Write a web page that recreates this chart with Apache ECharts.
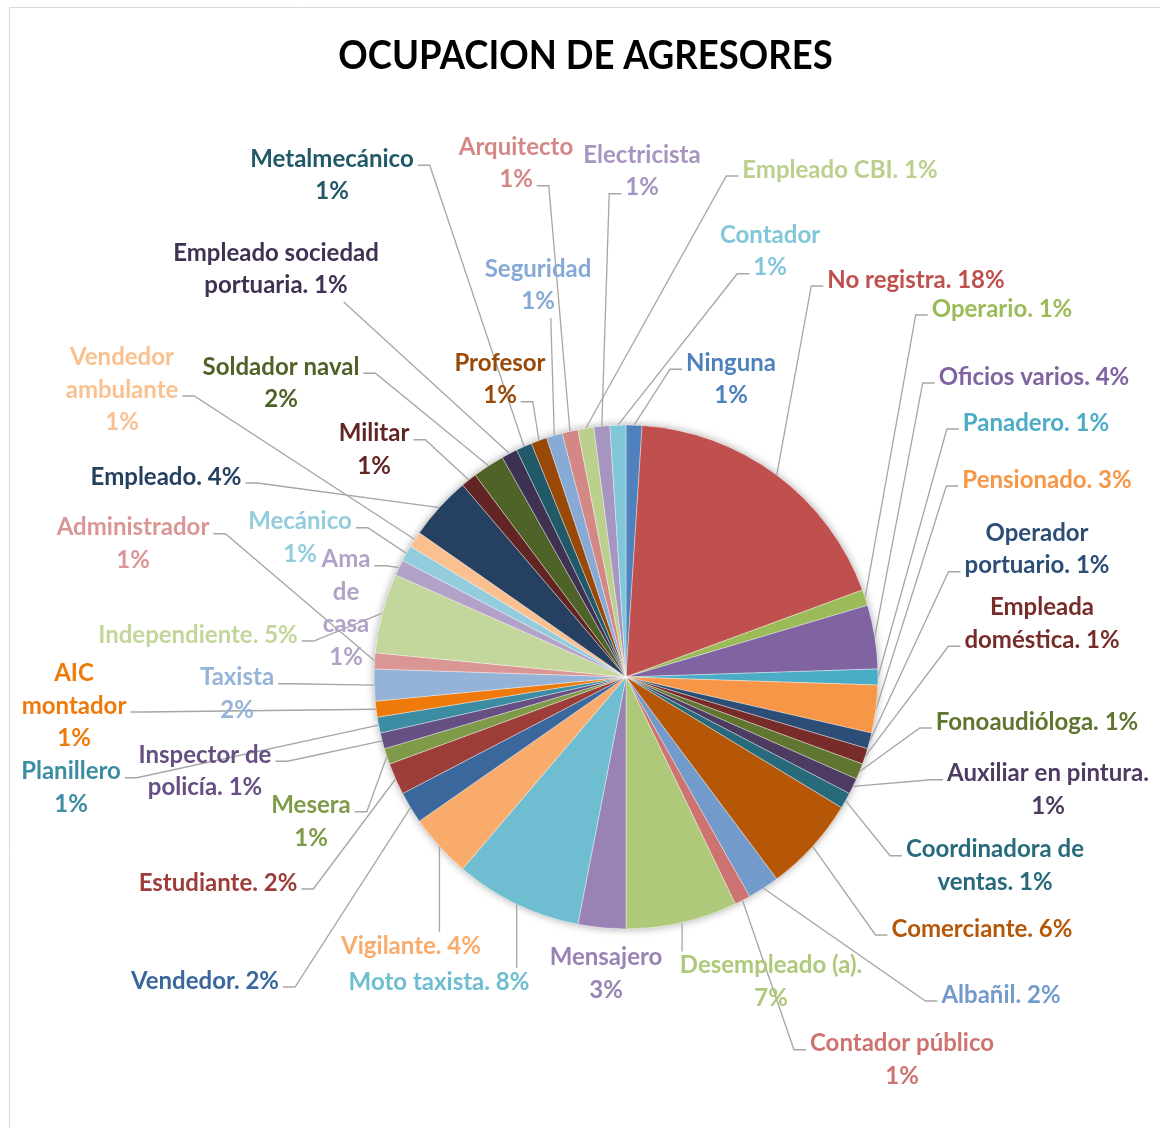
<!DOCTYPE html>
<html><head><meta charset="utf-8">
<script src="https://cdn.jsdelivr.net/npm/echarts@6/dist/echarts.min.js"></script>
<style>html,body{margin:0;padding:0;background:#fff}#c{width:1160px;height:1128px}</style>
</head><body><div id="c"></div>
<script>
// ---------------- DATA ----------------
const chartTitle = 'OCUPACION DE AGRESORES';
const categories = [
  'Ninguna','No registra','Operario','Oficios varios','Panadero','Pensionado',
  'Operador portuario','Empleada doméstica','Fonoaudióloga','Auxiliar en pintura',
  'Coordinadora de ventas','Comerciante','Albañil','Contador público','Desempleado (a)',
  'Mensajero','Moto taxista','Vigilante','Vendedor','Estudiante','Mesera',
  'Inspector de policía','Planillero','AIC montador','Taxista','Administrador',
  'Independiente','Ama de casa','Mecánico','Vendedor ambulante','Empleado','Militar',
  'Soldador naval','Empleado sociedad portuaria','Metalmecánico','Profesor','Seguridad',
  'Arquitecto','Empleado CBI','Electricista','Contador'
];
const values = [
  1,18,1,4,1,3,
  1,1,1,1,
  1,6,2,1,7,
  3,8,4,2,2,1,
  1,1,1,2,1,
  5,1,1,1,4,1,
  2,1,1,1,1,
  1,1,1,1
];
const colors = [
  '#4F81BD','#C0504D','#9BBB59','#8064A2','#4BACC6','#F79646',
  '#2C4D75','#772C2A','#5F7530','#4D3B62','#276A7C','#B65708',
  '#729ACA','#CD7371','#AFC97A','#9983B5','#6FBDD1','#F9AB6B',
  '#3A679C','#9C3D3A','#7F9A48','#664F83','#3C8DA3','#EE7A0C',
  '#95B3D7','#D99694','#C3D69B','#B3A2C7','#93CDDD','#FAC090',
  '#254061','#632523','#4F6228','#3F3151','#215968','#984807',
  '#86A9D6','#D48886','#BBD08D','#A694C1','#82C6D9'
];
// how each label's text is composed: 'dot' = "Name. P%", 'nl' = "Name\nP%", 'dotnl' = "Name.\nP%"
const labelForms = [
  'nl','dot','dot','dot','dot','dot',
  'dot','dot','dot','dotnl','dot','dot',
  'dot','nl','dotnl','nl','dot','dot',
  'dot','dot','nl','dot','nl','nl',
  'nl','nl','dot','nl','nl','nl',
  'dot','nl','nl','dot','nl','nl',
  'nl','nl','dot','nl','nl'
];
const nameBreaks = {
  'Operador portuario': 'Operador\nportuario',
  'Empleada doméstica': 'Empleada\ndoméstica',
  'Coordinadora de ventas': 'Coordinadora de\nventas',
  'Inspector de policía': 'Inspector de\npolicía',
  'AIC montador': 'AIC\nmontador',
  'Ama de casa': 'Ama\nde\ncasa',
  'Vendedor ambulante': 'Vendedor\nambulante',
  'Empleado sociedad portuaria': 'Empleado sociedad\nportuaria'
};

// ---------------- LAYOUT ----------------
const PIE_CENTER = [626, 677];
const PIE_R = 252;
const FONT_FAMILY = 'Lato';
const FONT_SIZE = 24;
const LH = 32.5;
// label block centre [x, y], side where the leader joins, text line it joins
const labelSpots = [
  [731,379.5,'l',0],[916,280,'l',0],[1002,309,'l',0],[1034,377,'l',0],[1036,423,'l',0],[1047,480,'l',0],
  [1037,549.5,'l',1],[1042,624,'l',1],[1037,722,'l',0],[1048,790,'l',0],[995,866,'l',0],[982,929,'l',0],
  [1001,995,'l',0],[902,1060,'l',0],[771,982,'t',0],[606,974,'n',0],[439,982,'t',0],[411,946,'t',0],
  [205,981,'r',0],[218,883,'r',0],[311,822,'r',0],[205,771.5,'r',0],[71,788,'r',0],[74,706,'r',1],
  [237,694,'r',0],[133,544,'r',0],[198,635,'r',0],[346,608.5,'r',0],[300,538,'r',0],[122,390,'r',1],
  [166,477,'r',0],[374,450,'r',0],[281,383.5,'r',0],[276,269.5,'b',0],[332,175.5,'r',0],[500,379.5,'r',1],
  [538,285.5,'b',0],[516,163.5,'r',1],[840,170,'l',0],[642,171.5,'l',1],[770,251.5,'l',1]
];

const total = values.reduce((a, b) => a + b, 0);
function pct(i) { return Math.round(values[i] / total * 100); }
function labelText(i) {
  const nm = nameBreaks[categories[i]] || categories[i];
  const p = pct(i) + '%';
  const f = labelForms[i];
  if (f === 'dot') return nm + '. ' + p;
  if (f === 'dotnl') return nm + '.\n' + p;
  return nm + '\n' + p;
}
const measureCtx = document.createElement('canvas').getContext('2d');
measureCtx.font = 'bold ' + FONT_SIZE + 'px ' + FONT_FAMILY;
function textW(s) { return measureCtx.measureText(s).width; }
function anchorOf(i) {
  let before = 0;
  for (let k = 0; k < i; k++) before += values[k];
  const mid = (before + values[i] / 2) / total * Math.PI * 2;
  return [PIE_CENTER[0] + PIE_R * Math.sin(mid), PIE_CENTER[1] - PIE_R * Math.cos(mid)];
}

function layoutLabel(params) {
  const i = params.dataIndex;
  const s = labelSpots[i];
  const lines = labelText(i).split('\n');
  const n = lines.length;
  const top = s[1] - n * LH / 2;
  const a = anchorOf(i);
  const out = { x: s[0], y: s[1], align: 'center', verticalAlign: 'middle' };
  const side = s[2];
  let end, elbow;
  if (side === 'l' || side === 'r') {
    const k = s[3];
    const w = textW(lines[k]);
    const y = top + LH * (k + 0.5) + 6;
    if (side === 'l') { end = [s[0] - w / 2 - 4, y]; elbow = [end[0] - 12, y]; }
    else { end = [s[0] + w / 2 + 4, y]; elbow = [end[0] + 12, y]; }
  } else if (side === 't' || side === 'b') {
    const ln = side === 't' ? lines[0] : lines[n - 1];
    const w = textW(ln);
    const x = Math.max(s[0] - w / 2, Math.min(s[0] + w / 2 - 4, a[0]));
    const y = side === 't' ? top + 2 : top + n * LH;
    end = [x, y]; elbow = [x, y];
  } else {
    end = a; elbow = a;
  }
  out.labelLinePoints = [a, elbow, end];
  return out;
}

const pieData = categories.map((c, i) => ({
  name: c,
  value: values[i],
  itemStyle: { color: colors[i] },
  label: { color: colors[i] },
  labelLine: { show: labelSpots[i][2] !== 'n' }
}));

const chart = echarts.init(document.getElementById('c'), null, { renderer: 'canvas' });
chart.setOption({
  animation: false,
  backgroundColor: '#ffffff',
  graphic: [
    { type: 'rect', silent: true, z: 0,
      shape: { x: 9.5, y: 7.5, width: 1200, height: 1200 },
      style: { fill: 'none', stroke: '#d9d9d9', lineWidth: 1 } },
    { type: 'text', silent: true, z: 10, x: 585.5, y: 56, scaleX: 0.89,
      style: { text: chartTitle, x: 0, y: 0, align: 'center', verticalAlign: 'middle',
               font: 'bold 41px "Lato", sans-serif', fill: '#000' } }
  ],
  series: [
    {
      type: 'pie', silent: true, z: 1,
      center: PIE_CENTER, radius: PIE_R,
      label: { show: false }, labelLine: { show: false },
      itemStyle: { color: '#ffffff', shadowBlur: 9, shadowColor: 'rgba(0,0,0,0.35)' },
      data: [{ name: 'all', value: total }]
    },
    {
      type: 'pie', z: 2,
      center: PIE_CENTER, radius: PIE_R,
      startAngle: 90, clockwise: true,
      avoidLabelOverlap: false,
      itemStyle: { borderColor: 'rgba(255,255,255,0.6)', borderWidth: 0.6 },
      label: {
        show: true, position: 'outside',
        fontFamily: FONT_FAMILY, fontSize: FONT_SIZE, fontWeight: 'bold', lineHeight: LH,
        formatter: p => labelText(p.dataIndex)
      },
      labelLine: { show: true, length: 10, length2: 10, smooth: false,
                   lineStyle: { color: '#a6a6a6', width: 1.3 } },
      labelLayout: layoutLabel,
      emphasis: { disabled: true },
      data: pieData
    }
  ]
});
</script>
</body></html>
